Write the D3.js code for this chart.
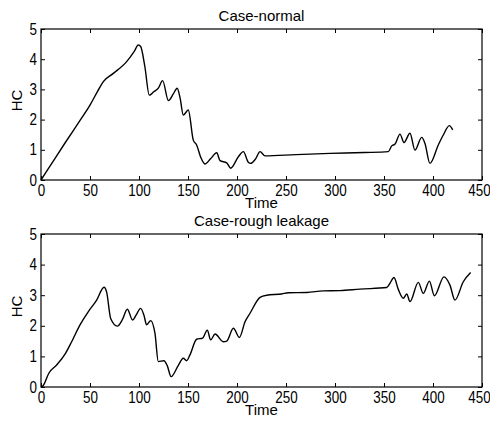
<!DOCTYPE html>
<html>
<head>
<meta charset="utf-8">
<script src="https://cdn.jsdelivr.net/npm/d3@7"></script>
<style>
  body { margin: 0; background: #fff; }
  svg text { font-family: "Liberation Sans", Arial, sans-serif; fill: #000; }
</style>
</head>
<body>
<div id="chart"></div>
<script>
// Values
const xTicks = [0, 50, 100, 150, 200, 250, 300, 350, 400, 450];
const yTicks = [0, 1, 2, 3, 4, 5];

const normalTime = [0, 10, 25, 40, 50, 58, 63.6, 73.8, 87.4, 95, 99.3, 101.7, 106, 110.5, 115, 119.7, 124.1, 130, 135, 139, 142, 145.2, 150.3, 155.4, 158.8, 163, 167.3, 173, 179.3, 182.7, 189.5, 193.5, 201.4, 206.5, 211.5, 214, 219, 223.5, 228.6, 260, 295, 330, 354.4, 357.9, 361.3, 366.3, 370.4, 376.5, 381.6, 388.5, 391.8, 396.9, 405.4, 410.5, 416.7, 420.1];
const normalHC = [0, 0.5, 1.25, 1.98, 2.48, 2.95, 3.26, 3.53, 3.92, 4.25, 4.47, 4.42, 3.75, 2.81, 2.92, 3.04, 3.29, 2.63, 2.85, 3.04, 2.7, 2.15, 2.32, 1.32, 1.16, 0.75, 0.53, 0.7, 0.9, 0.64, 0.57, 0.39, 0.77, 0.94, 0.59, 0.55, 0.7, 0.94, 0.8, 0.84, 0.88, 0.91, 0.94, 1.13, 1.19, 1.52, 1.24, 1.55, 0.99, 1.41, 1.21, 0.55, 1.16, 1.49, 1.8, 1.66];

const leakTime = [0, 2.3, 8, 16, 25, 31.3, 39.8, 48, 56.8, 64.3, 67, 71.1, 77.9, 83, 88.1, 93.5, 97, 101.7, 105, 107.8, 111.9, 116.3, 119.7, 125.5, 128.9, 132.7, 140, 145.2, 148.6, 152, 158.8, 165, 169.7, 173.1, 177.6, 186, 189.5, 196.3, 202.4, 208.2, 213.3, 223.5, 230.3, 245.6, 252.4, 271.1, 288, 305, 325.5, 352.7, 356.1, 360.2, 364.6, 369.7, 373.2, 376.5, 385, 390.1, 396.3, 401.4, 411.2, 417.3, 422.4, 430.9, 438.4];
const leakHC = [0, 0.05, 0.45, 0.72, 1.1, 1.48, 2.03, 2.45, 2.84, 3.26, 3.1, 2.24, 1.99, 2.2, 2.54, 2.19, 2.35, 2.57, 2.35, 2.03, 2.17, 1.75, 0.83, 0.86, 0.69, 0.34, 0.7, 0.94, 0.86, 1.05, 1.56, 1.6, 1.86, 1.54, 1.73, 1.48, 1.5, 1.92, 1.62, 2.13, 2.41, 2.93, 3.0, 3.04, 3.08, 3.09, 3.14, 3.15, 3.2, 3.25, 3.39, 3.58, 3.19, 2.9, 3.04, 2.79, 3.42, 3.06, 3.46, 2.98, 3.6, 3.33, 2.84, 3.44, 3.74];

const panels = [
    { title: "Case-normal", time: normalTime, hc: normalHC, top: 29, bottom: 180 },
    { title: "Case-rough leakage", time: leakTime, hc: leakHC, top: 234, bottom: 387 }
];

const width = 490, height = 421;
const left = 41, right = 482;
const squeeze = 0.84; // tick digits are tall and narrow in the reference

const svg = d3.select("#chart").append("svg")
    .attr("width", width)
    .attr("height", height);

const x = d3.scaleLinear().domain([0, 450]).range([left, right]);

panels.forEach(p => {
    const y = d3.scaleLinear().domain([0, 5]).range([p.bottom, p.top]);
    const g = svg.append("g");

    // bottom axis with labels, ticks pointing inward
    g.append("g")
        .attr("transform", `translate(0,${p.bottom})`)
        .call(d3.axisBottom(x).tickValues(xTicks).tickSize(-4).tickPadding(5).tickFormat(d3.format("d")))
        .call(a => a.select(".domain").remove())
        .selectAll("text")
        .style("font-size", "16px")
        .attr("transform", d => `translate(${d === 450 ? -3 : 0},0) scale(${squeeze},1)`);

    // left axis with labels
    g.append("g")
        .attr("transform", `translate(${left},0)`)
        .call(d3.axisLeft(y).tickValues(yTicks).tickSize(-4).tickPadding(4 / squeeze).tickFormat(d3.format("d")))
        .call(a => a.select(".domain").remove())
        .selectAll("text")
        .style("font-size", "16px")
        .attr("transform", `scale(${squeeze},1)`);

    // top and right axes, ticks only
    g.append("g")
        .attr("transform", `translate(0,${p.top})`)
        .call(d3.axisTop(x).tickValues(xTicks).tickSize(-4).tickFormat(""))
        .call(a => a.select(".domain").remove());
    g.append("g")
        .attr("transform", `translate(${right},0)`)
        .call(d3.axisRight(y).tickValues(yTicks).tickSize(-4).tickFormat(""))
        .call(a => a.select(".domain").remove());

    g.selectAll(".tick line").attr("stroke", "#000");

    // frame
    g.append("rect")
        .attr("x", left).attr("y", p.top)
        .attr("width", right - left).attr("height", p.bottom - p.top)
        .attr("fill", "none").attr("stroke", "#000").attr("stroke-width", 1.2);

    // line
    const pts = p.time.map((t, i) => [t, p.hc[i]]);
    g.append("path")
        .datum(pts)
        .attr("fill", "none")
        .attr("stroke", "#000")
        .attr("stroke-width", 1.4)
        .attr("d", d3.line().x(d => x(d[0])).y(d => y(d[1])).curve(d3.curveMonotoneX));

    // title
    g.append("text")
        .attr("x", (left + right) / 2)
        .attr("y", p.top - 8)
        .attr("text-anchor", "middle")
        .style("font-size", "15px")
        .text(p.title);

    // x label
    g.append("text")
        .attr("x", (left + right) / 2)
        .attr("y", p.bottom + 28)
        .attr("text-anchor", "middle")
        .style("font-size", "15px")
        .text("Time");

    // y label
    g.append("text")
        .attr("transform", `translate(22,${(p.top + p.bottom) / 2 - 4}) rotate(-90)`)
        .attr("text-anchor", "middle")
        .style("font-size", "15px")
        .text("HC");
});
</script>
</body>
</html>
